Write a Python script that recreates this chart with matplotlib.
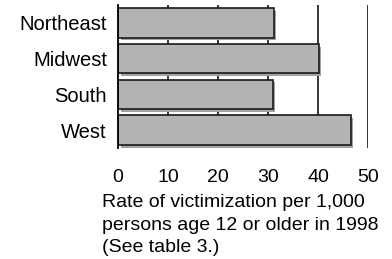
import matplotlib
matplotlib.use("Agg")
import matplotlib.pyplot as plt
import matplotlib.patheffects as pe

categories = ["Northeast", "Midwest", "South", "West"]
values = [31.1, 40.1, 30.9, 46.5]
xticks = [0, 10, 20, 30, 40, 50]
xlabel_lines = ["Rate of victimization per 1,000",
                "persons age 12 or older in 1998",
                "(See table 3.)"]

plt.rcParams['font.family'] = ['Liberation Sans', 'DejaVu Sans']

fig = plt.figure(figsize=(3.92, 2.59), dpi=100)
W, H = 392, 259
ax = fig.add_axes([118 / W, 1 - 148 / H, (368 - 118) / W, (148 - 5) / H])

ypos = list(range(len(categories)))
bars = ax.barh(ypos, values, height=0.82, color="#b3b3b3",
               edgecolor="#1a1a1a", linewidth=1.2, zorder=3)
for b in bars:
    b.set_path_effects([pe.SimplePatchShadow(offset=(2.0, -2.0),
                                             shadow_rgbFace="#a2a2a2", alpha=1.0),
                        pe.Normal()])

ax.set_xlim(0, 50)
ax.set_ylim(len(categories) - 0.5, -0.5)
ax.set_yticks(ypos)
ax.set_yticklabels(categories, fontsize=14.5)
ax.set_xticks(xticks)
ax.set_xticklabels([str(t) for t in xticks], fontsize=14)
ax.tick_params(axis='both', length=0)
ax.tick_params(axis='x', pad=15)
ax.tick_params(axis='y', pad=8)

for t in xticks[1:]:
    ax.axvline(t, color="black", linewidth=1.1, zorder=1)

for s in ["top", "right", "bottom"]:
    ax.spines[s].set_visible(False)
ax.spines["left"].set_linewidth(1.3)
ax.spines["left"].set_zorder(4)

baselines = [206.7, 229.7, 252.5]
for line, yb in zip(xlabel_lines, baselines):
    fig.text(102 / W, 1 - yb / H, line, fontsize=14,
             ha="left", va="baseline")

fig.savefig("out.png", dpi=100)
